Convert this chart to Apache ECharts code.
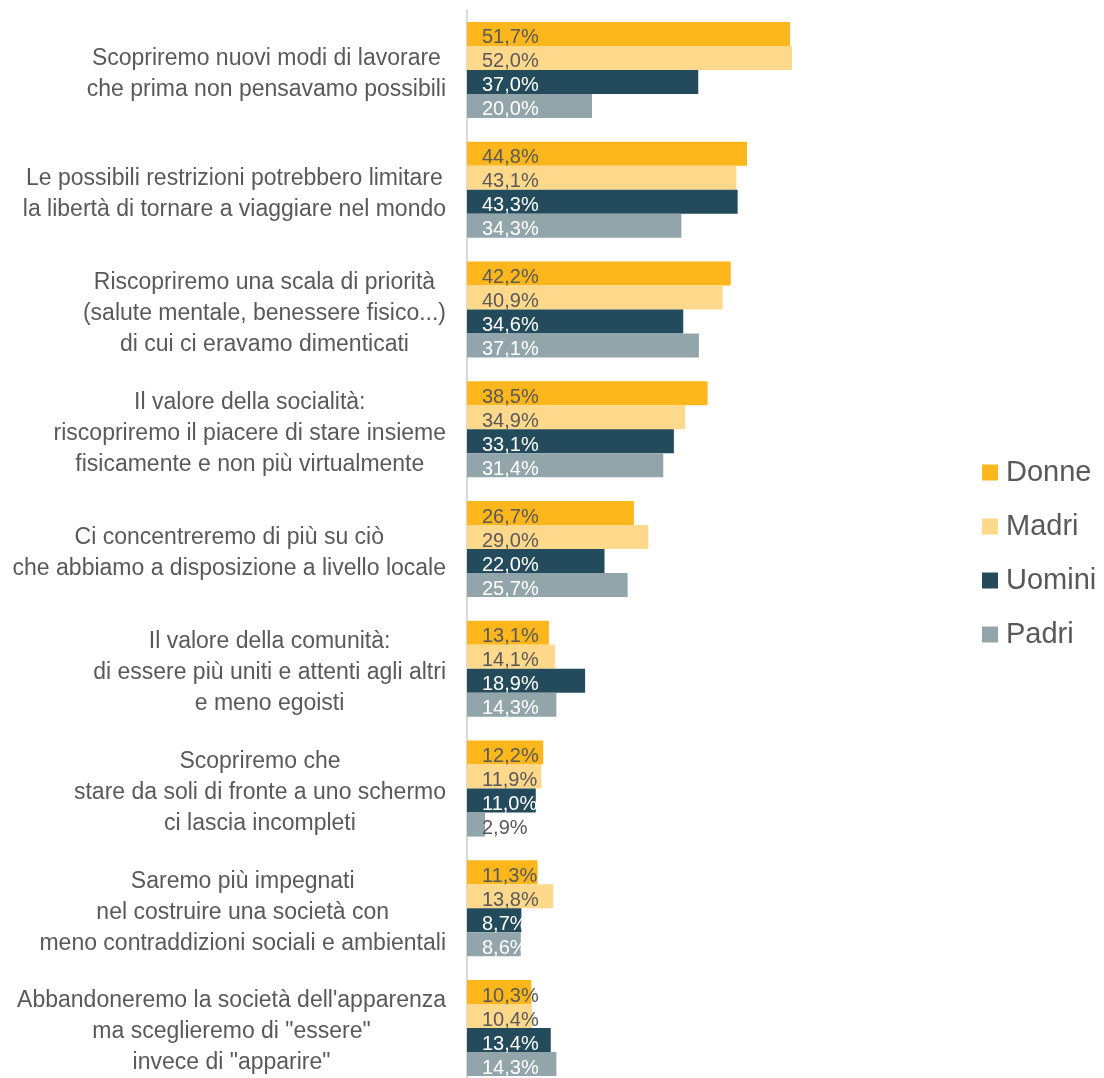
<!DOCTYPE html>
<html>
<head>
<meta charset="utf-8">
<script src="https://cdn.jsdelivr.net/npm/echarts@6/dist/echarts.min.js"></script>
<style>
  html, body { margin: 0; padding: 0; background: #ffffff; }
  #chart { width: 1104px; height: 1078px; }
</style>
</head>
<body>
<div id="chart"></div>
<script>
// Statements (one per group of bars), with their line breaks
const categories = [
  'Scopriremo nuovi modi di lavorare\nche prima non pensavamo possibili',
  'Le possibili restrizioni potrebbero limitare\nla libertà di tornare a viaggiare nel mondo',
  'Riscopriremo una scala di priorità\n(salute mentale, benessere fisico...)\ndi cui ci eravamo dimenticati',
  'Il valore della socialità:\nriscopriremo il piacere di stare insieme\nfisicamente e non più virtualmente',
  'Ci concentreremo di più su ciò\nche abbiamo a disposizione a livello locale',
  'Il valore della comunità:\ndi essere più uniti e attenti agli altri\ne meno egoisti',
  'Scopriremo che\nstare da soli di fronte a uno schermo\nci lascia incompleti',
  'Saremo più impegnati\nnel costruire una società con\nmeno contraddizioni sociali e ambientali',
  'Abbandoneremo la società dell\'apparenza\nma sceglieremo di "essere"\ninvece di "apparire"'
];

const seriesNames = ['Donne', 'Madri', 'Uomini', 'Padri'];

// Percentages per group
const donne  = [51.7, 44.8, 42.2, 38.5, 26.7, 13.1, 12.2, 11.3, 10.3];
const madri  = [52.0, 43.1, 40.9, 34.9, 29.0, 14.1, 11.9, 13.8, 10.4];
const uomini = [37.0, 43.3, 34.6, 33.1, 22.0, 18.9, 11.0,  8.7, 13.4];
const padri  = [20.0, 34.3, 37.1, 31.4, 25.7, 14.3,  2.9,  8.6, 14.3];

const values = [donne, madri, uomini, padri];
const colors = ['#FDB71C', '#FFD98B', '#234B5B', '#92A5AB'];
const labelColors = ['#595959', '#595959', '#ffffff', '#ffffff'];

const FONT = '"Liberation Sans", Arial, sans-serif';
const TEXT = '#595959';

function pct(v) {
  return v.toFixed(1).replace('.', ',') + '%';
}

const series = values.map((arr, si) => ({
  name: seriesNames[si],
  type: 'bar',
  barWidth: 24,
  barGap: '0%',
  itemStyle: { color: colors[si] },
  data: arr.map(v => {
    const d = { value: v };
    // very short bar: its label sits mostly on the white background
    if (si === 3 && v < 5) d.label = { color: TEXT };
    return d;
  }),
  label: {
    show: true,
    position: 'insideLeft',
    distance: 15,
    offset: [0, 4],
    color: labelColors[si],
    fontFamily: FONT,
    fontSize: 20,
    formatter: p => pct(p.value)
  }
}));

const chart = echarts.init(document.getElementById('chart'));
chart.setOption({
  animation: false,
  backgroundColor: '#ffffff',
  grid: { left: 467, top: 10, height: 1078, width: 375, outerBoundsMode: 'none' },
  xAxis: {
    type: 'value',
    min: 0,
    max: 60,
    show: false
  },
  yAxis: {
    type: 'category',
    inverse: true,
    data: categories,
    axisTick: { show: false },
    axisLine: { show: true, lineStyle: { color: '#d9d9d9', width: 2 } },
    axisLabel: {
      margin: 21,
      align: 'right',
      padding: [8, 0, 0, 0],
      formatter: v => v.split('\n').map(l => '{c|' + l + '}').join('\n'),
      rich: {
        c: {
          align: 'center',
          fontFamily: FONT,
          fontSize: 23,
          lineHeight: 31,
          color: TEXT
        }
      }
    }
  },
  legend: {
    orient: 'vertical',
    left: 977,
    top: 453,
    icon: 'rect',
    itemWidth: 16,
    itemHeight: 16,
    itemGap: 25,
    data: seriesNames,
    textStyle: { fontFamily: FONT, fontSize: 29, color: TEXT, padding: [0, 0, 0, 3] }
  },
  series: series
});
</script>
</body>
</html>
